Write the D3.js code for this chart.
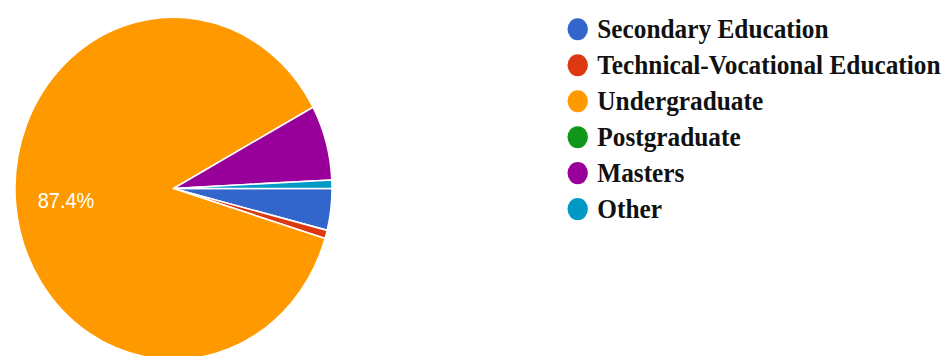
<!DOCTYPE html>
<html>
<head>
<meta charset="utf-8">
<script src="https://cdn.jsdelivr.net/npm/d3@7"></script>
<style>
  html, body { margin: 0; padding: 0; background: #fff; }
  svg { display: block; }
</style>
</head>
<body>
<svg id="chart" width="945" height="356"></svg>
<script>
// Highest level of education of respondents (counts)
const categories = ["Secondary Education", "Technical-Vocational Education", "Undergraduate", "Postgraduate", "Masters", "Other"];
const counts = [5, 1, 111, 0, 9, 1];
const colors = ["#3366cc", "#dc3912", "#ff9900", "#109618", "#990099", "#0099c6"];

const W = 945, H = 356;
const stretchY = 1.08;           // drawing is slightly taller than wide
const svg = d3.select("#chart");
const root = svg.append("g").attr("transform", `scale(1,${stretchY})`);

const cx = 173.5, cy = 174.5, R = 158.5;
const total = d3.sum(counts);
const data = categories.map((c, i) => ({ name: c, value: counts[i], color: colors[i] }));

const pie = d3.pie()
  .value(d => d.value)
  .sort(null)
  .startAngle(Math.PI / 2)
  .endAngle(Math.PI / 2 + 2 * Math.PI);

const arcs = pie(data);
const arc = d3.arc().innerRadius(0).outerRadius(R);
const labelArc = d3.arc().innerRadius(108).outerRadius(108);

const pg = root.append("g").attr("transform", `translate(${cx},${cy})`);

pg.selectAll("path.slice")
  .data(arcs.filter(a => a.data.value > 0))
  .join("path")
  .attr("class", "slice")
  .attr("d", arc)
  .attr("fill", d => d.data.color)
  .attr("stroke", "#fff")
  .attr("stroke-width", 1.5)
  .attr("stroke-linejoin", "round");

const pct = d3.format(".1%");
pg.selectAll("text.pct")
  .data(arcs.filter(a => a.data.value / total > 0.1))
  .join("text")
  .attr("class", "pct")
  .attr("transform", d => `translate(${labelArc.centroid(d)})`)
  .attr("text-anchor", "middle")
  .attr("dy", "0.36em")
  .attr("font-family", "Arial, 'Liberation Sans', sans-serif")
  .attr("font-size", 20)
  .attr("fill", "#fff")
  .text(d => pct(d.data.value / total));

// Legend
const lx = 577.7, ly0 = 27.1, lstep = 33.3;
const legend = root.append("g");
const rows = legend.selectAll("g.item")
  .data(data)
  .join("g")
  .attr("class", "item")
  .attr("transform", (d, i) => `translate(${lx},${ly0 + i * lstep})`);

rows.append("circle")
  .attr("r", 10.2)
  .attr("fill", d => d.color);

rows.append("text")
  .attr("x", 19.6)
  .attr("y", 8.4)
  .attr("font-family", "'Liberation Serif', 'Times New Roman', serif")
  .attr("font-weight", "bold")
  .attr("font-size", 25.3)
  .attr("fill", "#111")
  .text(d => d.name);
</script>
</body>
</html>
